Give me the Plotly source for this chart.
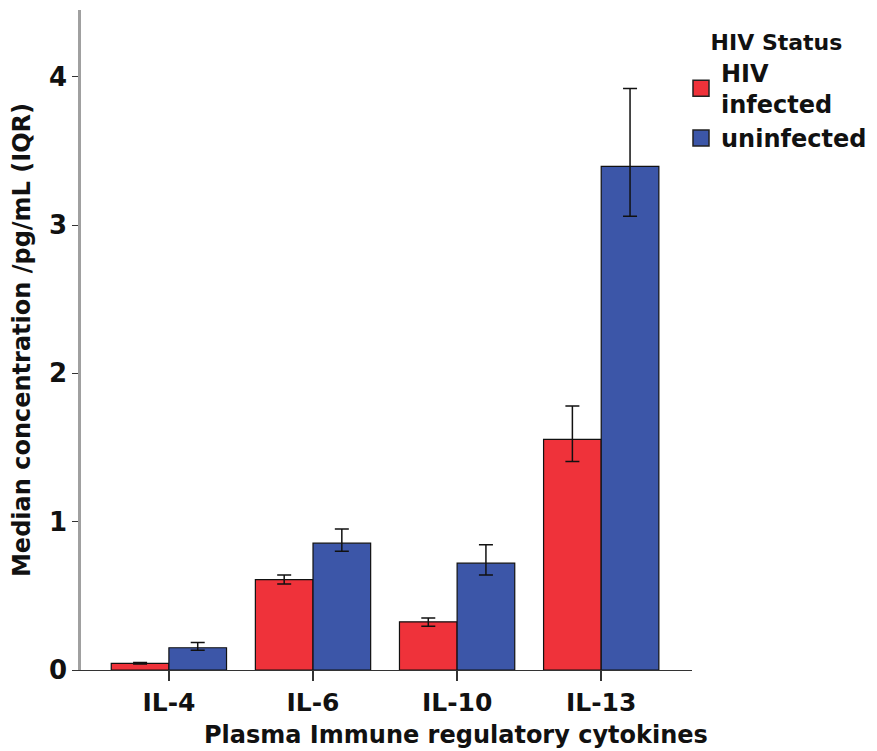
import plotly.graph_objects as go

categories = ["IL-4", "IL-6", "IL-10", "IL-13"]
infected = [0.045, 0.61, 0.325, 1.555]
infected_hi = [0.05, 0.64, 0.35, 1.78]
infected_lo = [0.04, 0.58, 0.295, 1.405]
uninfected = [0.15, 0.855, 0.72, 3.395]
uninfected_hi = [0.185, 0.95, 0.845, 3.92]
uninfected_lo = [0.133, 0.80, 0.64, 3.06]
y_ticks = [0, 1, 2, 3, 4]

RED = "#ef323a"
BLUE = "#3c56a8"
FONT = "DejaVu Sans"

def err(vals, hi, lo):
    return dict(type="data", symmetric=False,
                array=[h - v for h, v in zip(hi, vals)],
                arrayminus=[v - l for v, l in zip(vals, lo)],
                color="#111111", thickness=1.5, width=7)

fig = go.Figure()
fig.add_trace(go.Bar(x=categories, y=infected, name="HIV<br>infected",
                     marker=dict(color=RED, line=dict(color="#111111", width=1.2)),
                     error_y=err(infected, infected_hi, infected_lo), showlegend=False))
fig.add_trace(go.Bar(x=categories, y=uninfected, name="uninfected",
                     marker=dict(color=BLUE, line=dict(color="#111111", width=1.2)),
                     error_y=err(uninfected, uninfected_hi, uninfected_lo), showlegend=False))
# legend entries
for nm, col in [("HIV<br>infected", RED), ("uninfected", BLUE)]:
    fig.add_trace(go.Scatter(x=[None], y=[None], mode="markers", name=nm,
                             marker=dict(symbol="square", size=24, color=col,
                                         line=dict(color="#222222", width=1.5))))

fig.update_layout(
    width=869, height=743,
    margin=dict(l=73, r=185, t=2, b=81),
    plot_bgcolor="white", paper_bgcolor="white",
    barmode="group", bargap=0.2, bargroupgap=0,
    font=dict(family=FONT, size=22, color="#111111", weight="bold"),
    xaxis=dict(range=[-0.61, 3.63], showline=True, linecolor="#333333", linewidth=1,
               ticks="outside", ticklen=10, tickcolor="#333333", tickwidth=1.5,
               tickfont=dict(size=25), showgrid=False, zeroline=False),
    yaxis=dict(range=[0, 4.45], tickvals=y_ticks, showline=True, linecolor="#a0a0a0",
               linewidth=2.5, ticks="outside", ticklen=6, tickcolor="#333333",
               tickfont=dict(size=26), showgrid=False, zeroline=False,
               title=dict(text="Median concentration /pg/mL (IQR)", font=dict(size=24),
                          standoff=12)),
    legend=dict(x=0.982, y=0.982, xanchor="left", yanchor="top",
                title=dict(text="HIV Status", font=dict(size=22), side="top center"),
                font=dict(size=24), itemsizing="trace", tracegroupgap=0,
                bgcolor="rgba(0,0,0,0)"),
    annotations=[dict(text="Plasma Immune regulatory cytokines", xref="paper", yref="paper",
                      x=0.614, y=0, yshift=-65, xanchor="center", yanchor="middle",
                      showarrow=False, font=dict(size=24))],
)

fig.write_html("out.html")
